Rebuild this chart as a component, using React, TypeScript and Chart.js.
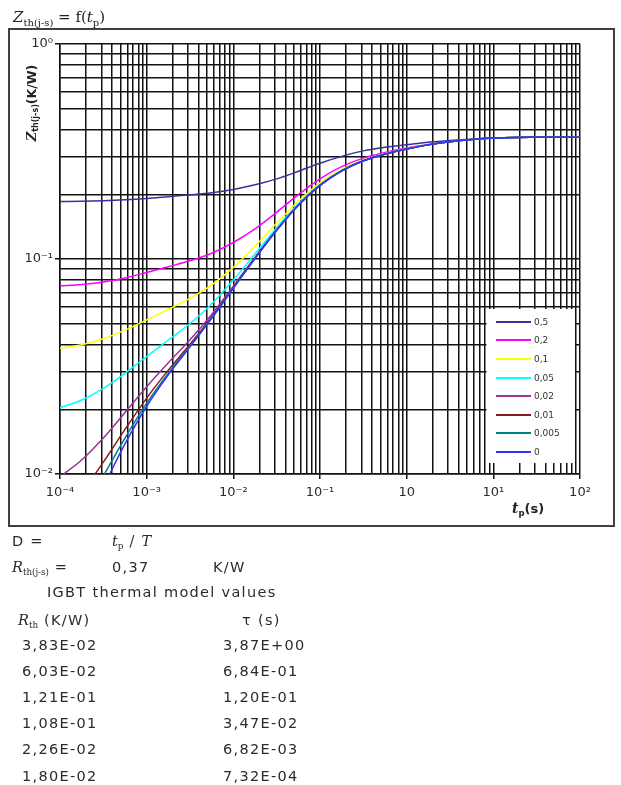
import React, { useEffect, useRef } from 'react';
import { Chart, registerables } from 'chart.js';

Chart.register(...registerables);

// pulse duration t_p (s)
const tp = [0.0001, 0.0001778, 0.0003162, 0.0005623, 0.001, 0.001778, 0.003162, 0.005623, 0.01, 0.01778, 0.03162, 0.05623, 0.1, 0.1778, 0.3162, 0.5623, 1, 1.778, 3.162, 5.623, 10, 17.78, 31.62, 56.23, 100];

// Zth(j-s) in K/W for each duty cycle D
const zthD050 = [0.1849, 0.1855, 0.1866, 0.1885, 0.1913, 0.1950, 0.1988, 0.2034, 0.2107, 0.2213, 0.2359, 0.2559, 0.2790, 0.3002, 0.3184, 0.3309, 0.3401, 0.3492, 0.3559, 0.3609, 0.3655, 0.3678, 0.3682, 0.3682, 0.3682];
const zthD020 = [0.07499, 0.07610, 0.07814, 0.08163, 0.08658, 0.09211, 0.09809, 0.1064, 0.1193, 0.1381, 0.1649, 0.1993, 0.2359, 0.2689, 0.2946, 0.3129, 0.3280, 0.3411, 0.3511, 0.3592, 0.3653, 0.3678, 0.3682, 0.3682, 0.3682];
const zthD010 = [0.03845, 0.03989, 0.04253, 0.04669, 0.05213, 0.05833, 0.06554, 0.07574, 0.09145, 0.1147, 0.1465, 0.1855, 0.2259, 0.2610, 0.2888, 0.3091, 0.3253, 0.3397, 0.3507, 0.3592, 0.3653, 0.3678, 0.3682, 0.3682, 0.3682];
const zthD005 = [0.02033, 0.02209, 0.02504, 0.02941, 0.03518, 0.04200, 0.05013, 0.06180, 0.07985, 0.1056, 0.1397, 0.1806, 0.2221, 0.2582, 0.2870, 0.3078, 0.3247, 0.3395, 0.3507, 0.3592, 0.3653, 0.3678, 0.3682, 0.3682, 0.3682];
const zthD002 = [0.00970, 0.01161, 0.01469, 0.01930, 0.02548, 0.03291, 0.04208, 0.05523, 0.07475, 0.1019, 0.1369, 0.1784, 0.2205, 0.2572, 0.2863, 0.3075, 0.3246, 0.3395, 0.3507, 0.3592, 0.3653, 0.3678, 0.3682, 0.3682, 0.3682];
const zthD001 = [0.00622, 0.00818, 0.01136, 0.01613, 0.02255, 0.03041, 0.04009, 0.05372, 0.07367, 0.1011, 0.1363, 0.1780, 0.2202, 0.2570, 0.2862, 0.3075, 0.3246, 0.3395, 0.3507, 0.3592, 0.3653, 0.3678, 0.3682, 0.3682, 0.3682];
const zthD0005 = [0.00451, 0.00653, 0.00979, 0.01470, 0.02135, 0.02946, 0.03938, 0.05321, 0.07327, 0.1008, 0.1361, 0.1778, 0.2201, 0.2570, 0.2862, 0.3075, 0.3246, 0.3395, 0.3507, 0.3592, 0.3653, 0.3678, 0.3682, 0.3682, 0.3682];
const zthD000 = [0.00305, 0.00521, 0.00867, 0.01380, 0.02066, 0.02895, 0.03901, 0.05293, 0.07307, 0.1006, 0.1360, 0.1778, 0.2201, 0.2570, 0.2862, 0.3075, 0.3246, 0.3395, 0.3507, 0.3592, 0.3653, 0.3678, 0.3682, 0.3682, 0.3682];

const dutyLabels = ['0,5', '0,2', '0,1', '0,05', '0,02', '0,01', '0,005', '0'];
const dutyColors = ['#333399', '#ff00ff', '#ffff00', '#00ffff', '#993399', '#8b1a1a', '#008080', '#3333ff'];
const dutySeries = [zthD050, zthD020, zthD010, zthD005, zthD002, zthD001, zthD0005, zthD000];

const xMajorExp = [-4, -3, -2, -1, 0, 1, 2];
const xMajorLabels = ['10⁻⁴', '10⁻³', '10⁻²', '10⁻¹', '10', '10¹', '10²'];
const yMajorExp = [-2, -1, 0];
const yMajorLabels = ['10⁻²', '10⁻¹', '10⁰'];

const rthValues = ['3,83E-02', '6,03E-02', '1,21E-01', '1,08E-01', '2,26E-02', '1,80E-02'];
const tauValues = ['3,87E+00', '6,84E-01', '1,20E-01', '3,47E-02', '6,82E-03', '7,32E-04'];

function logTicks(minExp: number, maxExp: number) {
  const out: { value: number }[] = [];
  for (let e = minExp; e < maxExp; e++) {
    for (let m = 1; m <= 9; m++) out.push({ value: Number(`${m}e${e}`) });
  }
  out.push({ value: Number(`1e${maxExp}`) });
  return out;
}

function majorIndex(v: number, exps: number[]) {
  const l = Math.log10(v);
  const r = Math.round(l);
  if (Math.abs(l - r) > 1e-6) return -1;
  return exps.indexOf(r);
}

const GRID = '#111111';

const legendPlugin = {
  id: 'insideLegend',
  beforeDatasetsDraw(chart: any) {
    const { ctx, chartArea } = chart;
    const w = 88.5;
    const h = 154;
    const x0 = chartArea.right - 5 - w;
    const y0 = chartArea.bottom - 11 - h;
    ctx.save();
    ctx.fillStyle = '#ffffff';
    ctx.fillRect(x0, y0, w, h);
    ctx.font = '9px "DejaVu Sans"';
    ctx.textBaseline = 'middle';
    ctx.textAlign = 'left';
    chart.data.datasets.forEach((ds: any, i: number) => {
      const y = Math.round(y0 + 12.7 + i * 18.6);
      ctx.strokeStyle = ds.borderColor;
      ctx.lineWidth = 2;
      ctx.beginPath();
      ctx.moveTo(x0 + 9.5, y);
      ctx.lineTo(x0 + 44.5, y);
      ctx.stroke();
      ctx.fillStyle = '#333333';
      ctx.fillText(ds.label, x0 + 47.5, y + 0.5);
    });
    ctx.restore();
  },
};

const sans = '"DejaVu Sans", Verdana, sans-serif';
const serif = '"DejaVu Serif", serif';

const baseText: React.CSSProperties = {
  position: 'absolute',
  height: 20,
  lineHeight: '20px',
  whiteSpace: 'nowrap',
  fontFamily: sans,
  fontSize: 14.5,
  letterSpacing: '1.3px',
  color: '#2b2b2b',
};

function T({ x, y, children, style }: { x: number; y: number; children: React.ReactNode; style?: React.CSSProperties }) {
  return <div style={{ ...baseText, left: x, top: y - 10, ...style }}>{children}</div>;
}

function Sub({ children, size = '0.62em' }: { children: React.ReactNode; size?: string }) {
  return <span style={{ fontSize: size, verticalAlign: '-0.3em', letterSpacing: 0 }}>{children}</span>;
}

function It({ children }: { children: React.ReactNode }) {
  return <span style={{ fontFamily: serif, fontStyle: 'italic', letterSpacing: 0 }}>{children}</span>;
}

export default function App() {
  const ref = useRef<HTMLCanvasElement | null>(null);

  useEffect(() => {
    if (!ref.current) return;
    const chart = new Chart(ref.current, {
      type: 'line',
      data: {
        datasets: dutySeries.map((s, i) => ({
          label: dutyLabels[i],
          data: tp.map((t, j) => ({ x: t, y: s[j] })),
          borderColor: dutyColors[i],
          backgroundColor: dutyColors[i],
          borderWidth: 1.5,
          pointRadius: 0,
          fill: false,
          cubicInterpolationMode: 'monotone' as const,
          order: dutySeries.length - 1 - i,
        })),
      },
      options: {
        animation: false,
        responsive: false,
        devicePixelRatio: 1,
        events: [],
        layout: { padding: { left: 20, top: 44, right: 41, bottom: 281 } },
        plugins: { legend: { display: false }, tooltip: { enabled: false }, title: { display: false } },
        scales: {
          x: {
            type: 'logarithmic',
            min: 1e-4,
            max: 100,
            afterBuildTicks: (scale: any) => {
              scale.ticks = logTicks(-4, 2);
            },
            afterFit: (scale: any) => {
              scale.height = 30;
            },
            ticks: {
              autoSkip: false,
              maxRotation: 0,
              minRotation: 0,
              padding: 6,
              color: '#2b2b2b',
              font: { family: 'DejaVu Sans', size: 13 },
              callback: (v: any) => {
                const k = majorIndex(Number(v), xMajorExp);
                return k >= 0 ? xMajorLabels[k] : '';
              },
            },
            grid: {
              color: GRID,
              lineWidth: 1.5,
              drawTicks: true,
              tickLength: 5,
              tickWidth: 1.5,
              tickColor: (ctx: any) => (ctx.tick && majorIndex(ctx.tick.value, xMajorExp) >= 0 ? GRID : 'rgba(0,0,0,0)'),
            },
            border: { display: true, color: GRID, width: 1.5 },
          },
          y: {
            type: 'logarithmic',
            min: 0.01,
            max: 1,
            afterBuildTicks: (scale: any) => {
              scale.ticks = logTicks(-2, 0);
            },
            afterFit: (scale: any) => {
              scale.width = 40;
            },
            ticks: {
              autoSkip: false,
              padding: 2,
              color: '#2b2b2b',
              font: { family: 'DejaVu Sans', size: 13 },
              callback: (v: any) => {
                const k = majorIndex(Number(v), yMajorExp);
                return k >= 0 ? yMajorLabels[k] : '';
              },
            },
            grid: {
              color: GRID,
              lineWidth: 1.5,
              drawTicks: true,
              tickLength: 5,
              tickWidth: 1.5,
              tickColor: (ctx: any) => (ctx.tick && majorIndex(ctx.tick.value, yMajorExp) >= 0 ? GRID : 'rgba(0,0,0,0)'),
            },
            border: { display: true, color: GRID, width: 1.5 },
          },
        },
      } as any,
      plugins: [legendPlugin],
    });
    return () => chart.destroy();
  }, []);

  return (
    <div style={{ position: 'fixed', left: 0, top: 0, width: 621, height: 785, overflow: 'hidden', background: '#ffffff' }}>
      <canvas ref={ref} width={621} height={785} style={{ position: 'absolute', left: 0, top: 0 }} />
      {/* frame */}
      <div style={{ position: 'absolute', left: 8, top: 28, width: 607, height: 499, boxSizing: 'border-box', border: '2px solid #404040' }} />

      {/* title */}
      <div style={{ position: 'absolute', left: 13, top: 6, height: 22, lineHeight: '22px', whiteSpace: 'nowrap', fontFamily: serif, fontSize: 15, color: '#222' }}>
        <span style={{ fontStyle: 'italic' }}>Z</span>
        <span style={{ fontSize: 10, verticalAlign: '-0.35em' }}>th(j-s)</span>
        {' = f('}
        <span style={{ fontStyle: 'italic' }}>t</span>
        <span style={{ fontSize: 10, verticalAlign: '-0.35em' }}>p</span>
        {')'}
      </div>

      {/* y axis title */}
      <div
        style={{
          position: 'absolute',
          left: 34,
          top: 103,
          transform: 'translate(-50%, -50%) rotate(-90deg)',
          whiteSpace: 'nowrap',
          fontFamily: sans,
          fontWeight: 'bold',
          fontSize: 12.5,
          color: '#222',
          lineHeight: '16px',
        }}
      >
        <span style={{ fontFamily: serif, fontStyle: 'italic', fontSize: 13 }}>Z</span>
        <span style={{ fontSize: 8, verticalAlign: '-0.3em' }}>th(j-s)</span>
        (K/W)
      </div>

      {/* x axis title */}
      <div style={{ position: 'absolute', left: 512, top: 499, height: 18, lineHeight: '18px', whiteSpace: 'nowrap', fontFamily: sans, fontWeight: 'bold', fontSize: 13, color: '#222' }}>
        <span style={{ fontFamily: serif, fontStyle: 'italic', fontSize: 14 }}>t</span>
        <span style={{ fontSize: 8.5, verticalAlign: '-0.35em' }}>p</span>
        (s)
      </div>

      {/* text block below the chart */}
      <T x={12} y={541}>D =</T>
      <T x={112} y={541}>
        <It>t</It>
        <Sub>
          <span style={{ fontFamily: serif }}>p</span>
        </Sub>
        <span style={{ fontFamily: serif }}> / </span>
        <It>T</It>
      </T>

      <T x={12} y={567}>
        <It>R</It>
        <Sub size="0.6em">
          <span style={{ fontFamily: serif }}>th(j-s)</span>
        </Sub>
        {' ='}
      </T>
      <T x={112} y={567}>0,37</T>
      <T x={213} y={567}>K/W</T>

      <T x={47} y={592}>IGBT thermal model values</T>

      <T x={18} y={620}>
        <It>R</It>
        <Sub size="0.6em">
          <span style={{ fontFamily: serif }}>th</span>
        </Sub>
        {' (K/W)'}
      </T>
      <T x={242} y={620}>τ (s)</T>

      {rthValues.map((v, i) => (
        <T key={'r' + i} x={22} y={645 + i * 26.1}>
          {v}
        </T>
      ))}
      {tauValues.map((v, i) => (
        <T key={'t' + i} x={223} y={645 + i * 26.1}>
          {v}
        </T>
      ))}
    </div>
  );
}
